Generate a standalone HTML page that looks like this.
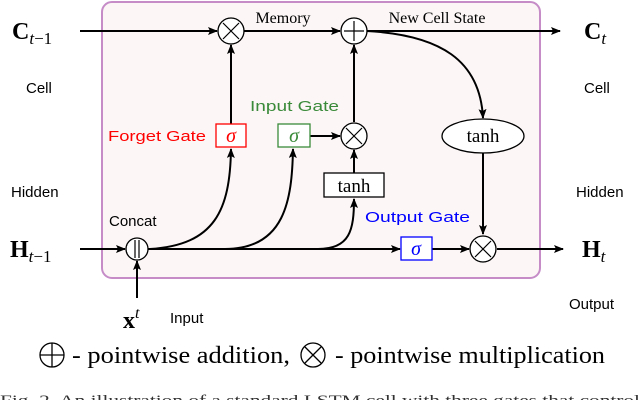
<!DOCTYPE html>
<html><head><style>body{margin:0;background:#fff}svg{display:block}</style></head><body>
<svg width="640" height="400" viewBox="0 0 640 400" xmlns="http://www.w3.org/2000/svg">
<defs><marker id="a" markerWidth="10" markerHeight="8" refX="9" refY="4" orient="auto" markerUnits="userSpaceOnUse"><path d="M0,0 L10,4 L0,8 L2,4 Z" fill="#000"/></marker></defs>
<rect x="102" y="2" width="438" height="276" rx="10" fill="#fcf6f6" stroke="#c58cc8" stroke-width="2"/>
<g stroke="#000" stroke-width="2" fill="none">
<line x1="80" y1="31" x2="217" y2="31" marker-end="url(#a)"/>
<line x1="244" y1="31" x2="340" y2="31" marker-end="url(#a)"/>
<line x1="367" y1="31" x2="560" y2="31" marker-end="url(#a)"/>
<path d="M367,31 C440,35 480,60 483,118" marker-end="url(#a)"/>
<line x1="231" y1="124" x2="231" y2="45" marker-end="url(#a)"/>
<line x1="354" y1="122" x2="354" y2="45" marker-end="url(#a)"/>
<line x1="310" y1="136" x2="340" y2="136" marker-end="url(#a)"/>
<line x1="354" y1="173" x2="354" y2="150" marker-end="url(#a)"/>
<line x1="483" y1="153" x2="483" y2="234" marker-end="url(#a)"/>
<line x1="80" y1="249" x2="125" y2="249" marker-end="url(#a)"/>
<line x1="148" y1="249" x2="400" y2="249" marker-end="url(#a)"/>
<line x1="432" y1="249" x2="469" y2="249" marker-end="url(#a)"/>
<line x1="497" y1="249" x2="563" y2="249" marker-end="url(#a)"/>
<line x1="137" y1="298" x2="137" y2="261" marker-end="url(#a)"/>
<path d="M150,249 C215,245 230,210 231,149" marker-end="url(#a)"/>
<path d="M225,249 C285,249 292,200 293,149" marker-end="url(#a)"/>
<path d="M318,249 C350,249 354,230 354,199" marker-end="url(#a)"/>
</g>
<g stroke="#000" stroke-width="1.3" fill="#fff">
<circle cx="231" cy="31" r="13"/><circle cx="354" cy="31" r="13"/><circle cx="354" cy="136" r="13"/><circle cx="483" cy="249" r="13"/><circle cx="137" cy="249" r="11"/>
<ellipse cx="483" cy="136" rx="41" ry="17"/>
<rect x="324" y="173" width="60" height="24"/>
</g>
<g stroke="#000" stroke-width="1.2">
<path d="M223,23 L239,39 M239,23 L223,39 M346,128 L362,144 M362,128 L346,144 M475,241 L491,257 M491,241 L475,257 M354,21 L354,41 M344,31 L364,31 M135,240 L135,258 M139,240 L139,258"/>
</g>
<rect x="216" y="124" width="30" height="23" fill="#fff" stroke="#f00" stroke-width="1.3"/>
<rect x="278" y="124" width="32" height="23" fill="#fff" stroke="#3a8a3a" stroke-width="1.3"/>
<rect x="401" y="237" width="31" height="23" fill="#fff" stroke="#00f" stroke-width="1.3"/>
<g font-family="Liberation Serif, serif" text-anchor="middle">
<text x="231" y="142" font-size="20" font-style="italic" fill="#f00">σ</text>
<text x="294" y="142" font-size="20" font-style="italic" fill="#3a8a3a">σ</text>
<text x="416" y="255" font-size="20" font-style="italic" fill="#00f">σ</text>
<text x="354" y="192" font-size="19">tanh</text>
<text x="483" y="142" font-size="19">tanh</text>
<text x="283" y="23" font-size="16">Memory</text>
<text x="437" y="23" font-size="16">New Cell State</text>
</g>
<g font-family="Liberation Serif, serif" font-size="24" font-weight="bold">
<text x="12" y="39">C<tspan font-size="17" font-weight="normal" font-style="italic" dy="5">t</tspan><tspan font-size="17" font-weight="normal" dy="0">−1</tspan></text>
<text x="584" y="39">C<tspan font-size="17" font-weight="normal" font-style="italic" dy="5">t</tspan></text>
<text x="10" y="257">H<tspan font-size="17" font-weight="normal" font-style="italic" dy="5">t</tspan><tspan font-size="17" font-weight="normal">−1</tspan></text>
<text x="582" y="257">H<tspan font-size="17" font-weight="normal" font-style="italic" dy="5">t</tspan></text>
<text x="123" y="328">x<tspan font-size="16" font-weight="normal" font-style="italic" dy="-10">t</tspan></text>
</g>
<g font-family="Liberation Sans, sans-serif" font-size="15">
<text x="26" y="93">Cell</text><text x="584" y="93">Cell</text>
<text x="11" y="197">Hidden</text><text x="576" y="197">Hidden</text>
<text x="109" y="226">Concat</text>
<text x="170" y="323">Input</text>
<text x="569" y="309">Output</text>
<text x="108" y="141" fill="#f00" textLength="98" lengthAdjust="spacingAndGlyphs">Forget Gate</text>
<text x="250" y="111" fill="#3a8a3a" textLength="89" lengthAdjust="spacingAndGlyphs">Input Gate</text>
<text x="365" y="222" fill="#00f" textLength="105" lengthAdjust="spacingAndGlyphs">Output Gate</text>
</g>
<g stroke="#000" stroke-width="1.3" fill="none">
<circle cx="52" cy="355" r="12"/><path d="M40,355 L64,355 M52,343 L52,367"/>
<circle cx="313" cy="355" r="12"/><path d="M305,347 L321,363 M321,347 L305,363"/>
</g>
<text font-family="Liberation Serif, serif" font-size="24" x="72" y="363" textLength="218" lengthAdjust="spacingAndGlyphs">- pointwise addition,</text>
<text font-family="Liberation Serif, serif" font-size="24" x="335" y="363" textLength="270" lengthAdjust="spacingAndGlyphs">- pointwise multiplication</text>
<text font-family="Liberation Serif, serif" font-size="15" x="0" y="405" fill="#333" textLength="640" lengthAdjust="spacingAndGlyphs">Fig. 2.  An illustration of a standard LSTM cell with three gates that control</text>
</svg>
</body></html>
